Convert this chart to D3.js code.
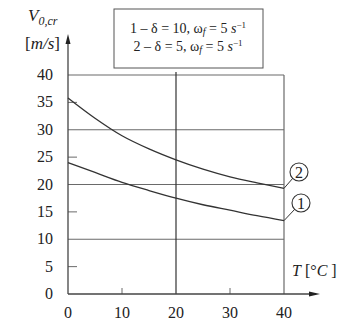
<!DOCTYPE html>
<html>
<head>
<meta charset="utf-8">
<script src="https://cdn.jsdelivr.net/npm/d3@7"></script>
<style>
  body{margin:0;background:#fff;}
</style>
</head>
<body>
<div id="chart"></div>
<script>
// data
var temps = [0,5,10,15,20,25,30,35,40];
var curve1 = [24.0,22.2,20.4,18.9,17.5,16.3,15.3,14.3,13.4];
var curve2 = [35.8,32.1,28.9,26.5,24.5,22.8,21.4,20.3,19.3];
var xTicks = [0,10,20,30,40];
var yTicks = [0,5,10,15,20,25,30,35,40];
var legendLines = ["1","2"];

var svg = d3.select("#chart").append("svg")
    .attr("width",345)
    .attr("height",324);

var x = d3.scaleLinear().domain([0,40]).range([68,284]);
var y = d3.scaleLinear().domain([0,40]).range([294,75]);

var grid = "#6a6a6a";

// horizontal grid lines
svg.selectAll(".hgrid")
    .data([10,20,30,40])
    .enter().append("line")
    .attr("x1",x(0)).attr("x2",x(40))
    .attr("y1",function(d){return y(d);})
    .attr("y2",function(d){return y(d);})
    .attr("stroke",grid).attr("stroke-width",1.2);

// vertical grid lines
svg.selectAll(".vgrid")
    .data([20,40])
    .enter().append("line")
    .attr("x1",function(d){return x(d);})
    .attr("x2",function(d){return x(d);})
    .attr("y1",y(0)).attr("y2",function(d){return d==20 ? y(40)-3 : y(40);})
    .attr("stroke",function(d){return d==20 ? "#333" : grid;})
    .attr("stroke-width",1.2);

// minor ticks
svg.selectAll(".ytick")
    .data([5,15,25,35])
    .enter().append("line")
    .attr("x1",x(0)).attr("x2",x(0)+9)
    .attr("y1",function(d){return y(d);})
    .attr("y2",function(d){return y(d);})
    .attr("stroke",grid);
svg.selectAll(".xtick")
    .data([10,30])
    .enter().append("line")
    .attr("x1",function(d){return x(d);})
    .attr("x2",function(d){return x(d);})
    .attr("y1",y(0)).attr("y2",y(0)-6)
    .attr("stroke",grid);

// axes with arrows
svg.append("line").attr("x1",x(0)).attr("x2",x(0)).attr("y1",y(0)).attr("y2",38)
    .attr("stroke","#444").attr("stroke-width",1.3);
svg.append("path").attr("d","M"+x(0)+",34 L"+(x(0)-2.5)+",44 L"+(x(0)+2.5)+",44 Z").attr("fill","#222");
svg.append("line").attr("x1",x(0)).attr("x2",316).attr("y1",y(0)).attr("y2",y(0))
    .attr("stroke","#444").attr("stroke-width",1.3);
svg.append("path").attr("d","M320,"+y(0)+" L309,"+(y(0)-2.5)+" L309,"+(y(0)+2.5)+" Z").attr("fill","#222");

// tick labels
svg.selectAll(".ylab")
    .data(yTicks)
    .enter().append("text")
    .attr("x",53).attr("y",function(d){return y(d)+5;})
    .attr("text-anchor","end").attr("font-size",16)
    .text(function(d){return d;});
svg.selectAll(".xlab")
    .data(xTicks)
    .enter().append("text")
    .attr("x",function(d){return x(d);}).attr("y",318)
    .attr("text-anchor","middle").attr("font-size",16)
    .text(function(d){return d;});

// axis titles
var vt = svg.append("text").attr("x",28).attr("y",21).attr("font-size",17).attr("font-style","italic");
vt.append("tspan").text("V");
vt.append("tspan").attr("font-size",12).attr("dy",4).text("0,cr");
svg.append("text").attr("x",25).attr("y",49).attr("font-size",17)
    .html('[<tspan font-style="italic">m/s</tspan>]');
svg.append("text").attr("x",292).attr("y",276).attr("font-size",16)
    .html('<tspan font-style="italic">T</tspan> [°<tspan font-style="italic">C</tspan> ]');

// curves
var line = d3.line()
    .x(function(d,i){return x(temps[i]);})
    .y(function(d){return y(d);})
    .curve(d3.curveMonotoneX);
[curve1,curve2].forEach(function(c){
  svg.append("path").datum(c)
    .attr("d",line)
    .attr("fill","none")
    .attr("stroke","#333")
    .attr("stroke-width",1.3);
});

// curve labels
var labs = [{n:"2",cx:299,cy:172,v:curve2[8]},{n:"1",cx:301,cy:203,v:curve1[8]}];
labs.forEach(function(l){
  svg.append("line").attr("x1",x(40)).attr("y1",y(l.v))
     .attr("x2",l.cx-6).attr("y2",l.cy+6).attr("stroke","#333");
  svg.append("circle").attr("cx",l.cx).attr("cy",l.cy).attr("r",9)
     .attr("fill","#fff").attr("stroke","#333").attr("stroke-width",1.1);
  svg.append("text").attr("x",l.cx).attr("y",l.cy+5.5).attr("text-anchor","middle")
     .attr("font-size",16).text(l.n);
});

// legend box
svg.append("rect").attr("x",114).attr("y",9).attr("width",149).attr("height",59)
    .attr("fill","#fff").attr("stroke","#555").attr("stroke-width",1);
var legend = [
  {n:legendLines[0],d:"10"},
  {n:legendLines[1],d:"5"}
];
legend.forEach(function(l,i){
  var t = svg.append("text").attr("x",188).attr("y",33+i*18).attr("text-anchor","middle").attr("font-size",14);
  t.append("tspan").text(l.n+" – δ = "+l.d+", ω");
  t.append("tspan").attr("font-size",10).attr("dy",2).attr("font-style","italic").text("f");
  t.append("tspan").attr("dy",-2).text(" = 5 ");
  t.append("tspan").attr("font-style","italic").text("s");
  t.append("tspan").attr("font-size",9).attr("dy",-5).text("−1");
});

svg.selectAll("text").style("font-family","'Liberation Serif'").style("fill","#222");
</script>
</body>
</html>
